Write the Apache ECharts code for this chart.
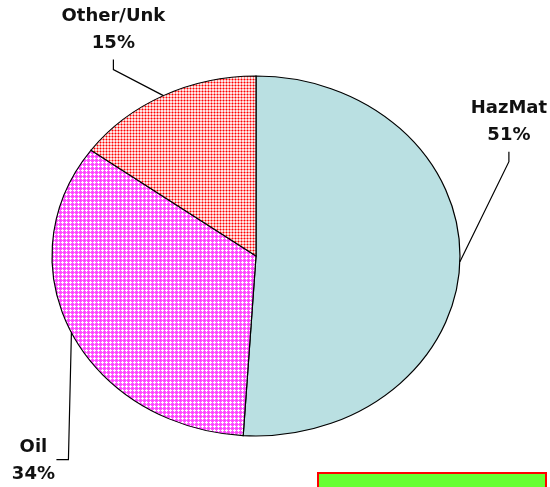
<!DOCTYPE html>
<html>
<head>
<meta charset="utf-8">
<script src="https://cdn.jsdelivr.net/npm/echarts@6/dist/echarts.min.js"></script>
<style>
  html, body { margin: 0; padding: 0; background: #fff; }
  #chart { width: 550px; height: 487px; }
</style>
</head>
<body>
<div id="chart"></div>
<script>
// slice data, clockwise from 12 o'clock
const categories = ['HazMat', 'Oil', 'Other/Unk']
const shares = [51, 34, 15]

// ellipse geometry (Excel squashed the pie)
const CX = 256
const CY = 256
const RX = 204
const RY = 180

// where each leader line bends, relative to the slice edge point,
// and which side the label text sits on
const leaders = [
  { dx: 49, dy: -100, side: 'top' },
  { dx: -3, dy: 127, side: 'left' },
  { dx: -50, dy: -26, side: 'top' }
]

function makeTile(size, paint) {
  const c = document.createElement('canvas')
  c.width = size
  c.height = size
  const ctx = c.getContext('2d')
  ctx.fillStyle = '#ffffff'
  ctx.fillRect(0, 0, size, size)
  for (let y = 0; y < size; y++) {
    for (let x = 0; x < size; x++) {
      const col = paint(x, y)
      if (col) {
        ctx.fillStyle = col
        ctx.fillRect(x, y, 1, 1)
      }
    }
  }
  return c
}

// magenta with little white crosses
const oilTile = makeTile(4, (x, y) => {
  const white = (x === 2 && y >= 1 && y <= 3) || (y === 2 && x >= 1 && x <= 3)
  if (white) return null
  if (x === 0 && y === 0) return '#ff33ff'
  return '#ff55ff'
})
// red dots on a pink grid
const otherTile = makeTile(3, (x, y) => {
  if (x === 0 && y === 0) return '#ff0000'
  if (x === 0 || y === 0) return '#ff8080'
  return '#ffe4e4'
})

const fills = [
  '#bae0e2',
  { image: oilTile, repeat: 'repeat', scaleY: RX / RY },
  { image: otherTile, repeat: 'repeat', scaleY: RX / RY }
]

const total = shares.reduce((a, b) => a + b, 0)

const chart = echarts.init(document.getElementById('chart'))

chart.setOption({
  backgroundColor: '#ffffff',
  animation: false,
  series: [{
    type: 'custom',
    coordinateSystem: 'none',
    data: shares.map((v, i) => ({ name: categories[i], value: v })),
    renderItem: function (params, api) {
      const i = params.dataIndex
      let before = 0
      for (let k = 0; k < i; k++) before += shares[k]
      const v = api.value(0)
      const start = -Math.PI / 2 + before / total * Math.PI * 2
      const end = start + v / total * Math.PI * 2
      const mid = (start + end) / 2
      const ax = CX + RX * Math.cos(mid)
      const ay = CY + RY * Math.sin(mid)
      const ld = leaders[i]
      const bx = ax + ld.dx
      const by = ay + ld.dy
      let tx, ty, textX, textY
      if (ld.side === 'top') {
        tx = bx; ty = by - 10
        textX = tx; textY = ty - 30
      } else {
        tx = bx - 12; ty = by
        textX = tx - 23; textY = ty + 1
      }
      const label = categories[i] + '\n' + Math.round(v / total * 100) + '%'
      return {
        type: 'group',
        children: [
          {
            type: 'sector',
            x: CX,
            y: CY,
            scaleY: RY / RX,
            shape: { cx: 0, cy: 0, r: RX, r0: 0, startAngle: start, endAngle: end, clockwise: true },
            style: { fill: fills[i], stroke: '#000', lineWidth: 1.2, strokeNoScale: true }
          },
          {
            type: 'polyline',
            shape: { points: [[ax, ay], [bx, by], [tx, ty]] },
            style: { stroke: '#000', lineWidth: 1.2, fill: null }
          },
          {
            type: 'text',
            x: textX,
            y: textY,
            style: {
              text: label,
              fill: '#111',
              font: 'bold 18px "DejaVu Sans", Verdana, sans-serif',
              lineHeight: 27,
              align: 'center',
              verticalAlign: 'middle'
            }
          }
        ]
      }
    }
  }],
  graphic: [{
    type: 'rect',
    shape: { x: 318, y: 473, width: 228, height: 30 },
    style: { fill: '#66ff33', stroke: '#ff0000', lineWidth: 2 }
  }]
})
</script>
</body>
</html>
